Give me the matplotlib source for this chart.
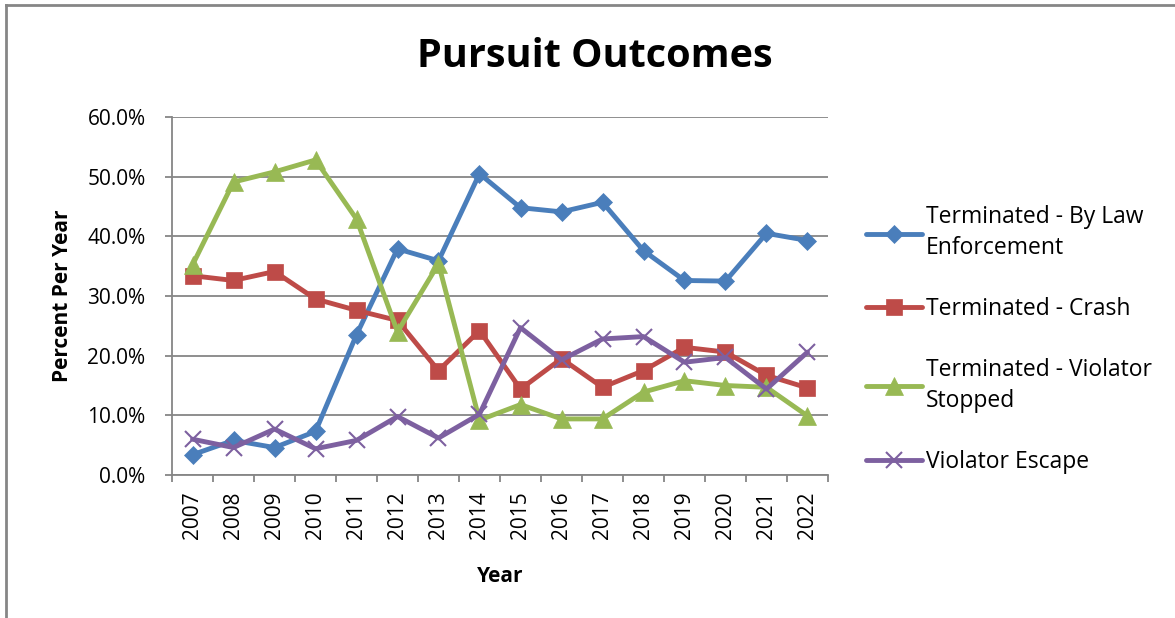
import matplotlib
matplotlib.use("Agg")
import matplotlib.pyplot as plt
from matplotlib.lines import Line2D
from matplotlib.ticker import PercentFormatter, FixedLocator

plt.rcParams['font.family'] = ['Open Sans', 'DejaVu Sans']

years = ['2007', '2008', '2009', '2010', '2011', '2012', '2013', '2014',
         '2015', '2016', '2017', '2018', '2019', '2020', '2021', '2022']

# percent per year
law_enf = [3.4, 5.8, 4.6, 7.3, 23.5, 37.9, 35.9, 50.5,
           44.8, 44.1, 45.7, 37.6, 32.6, 32.5, 40.5, 39.3]
crash = [33.4, 32.6, 34.1, 29.5, 27.6, 25.9, 17.5, 24.2,
         14.4, 19.5, 14.7, 17.5, 21.4, 20.6, 16.7, 14.6]
stopped = [35.2, 49.1, 50.8, 52.8, 42.9, 24.0, 35.4, 9.2,
           11.8, 9.4, 9.4, 13.9, 15.8, 15.0, 14.7, 9.9]
escape = [6.0, 4.6, 7.7, 4.4, 5.8, 9.8, 6.2, 10.2,
          24.7, 19.3, 22.8, 23.2, 18.9, 19.7, 14.4, 20.6]

labels = ['Terminated - By Law\nEnforcement', 'Terminated - Crash',
          'Terminated - Violator\nStopped', 'Violator Escape']
colors = ['#4a7ebb', '#be4b48', '#98b954', '#7d60a0']
markers = ['D', 's', '^', 'x']
msizes = [9, 12, 13, 12]

fig = plt.figure(figsize=(11.75, 6.18), dpi=100)
ax = fig.add_axes([172 / 1175, 1 - 475 / 618, 656 / 1175, 358 / 618])

x = list(range(len(years)))
series = [law_enf, crash, stopped, escape]
for vals, lab, c, m, ms in zip(series, labels, colors, markers, msizes):
    ax.plot(x, vals, color=c, lw=3.5, marker=m, markersize=ms,
            markeredgewidth=1.5 if m == 'x' else 0.5, markeredgecolor=c,
            label=lab, solid_joinstyle='round', solid_capstyle='round')

grey = '#868686'
ax.set_ylim(0, 60)
ax.set_xlim(-0.5, len(years) - 0.5)
ax.set_yticks(range(0, 61, 10))
ax.yaxis.set_major_formatter(PercentFormatter(decimals=1))
ax.set_xticks(x)
ax.set_xticklabels(years, rotation=90, fontsize=15)
ax.xaxis.set_minor_locator(FixedLocator([i - 0.5 for i in range(len(years) + 1)]))
ax.tick_params(axis='x', which='major', length=0, pad=12)
ax.tick_params(axis='x', which='minor', length=5, color=grey, width=1.3, direction='out')
ax.tick_params(axis='y', length=5, color=grey, width=1.3, labelsize=15, pad=14)
ax.grid(axis='y', color=grey, lw=1.3)
ax.set_axisbelow(True)
for s in ['top', 'right']:
    ax.spines[s].set_visible(False)
for s in ['left', 'bottom']:
    ax.spines[s].set_color(grey)
    ax.spines[s].set_linewidth(1.3)

ax.set_ylabel('Percent Per Year', fontsize=15, fontweight='bold', labelpad=10)
ax.set_xlabel('Year', fontsize=15, fontweight='bold', labelpad=19)
fig.text(595 / 1175, 1 - 67 / 618, 'Pursuit Outcomes', fontsize=28.5,
         fontweight='bold', ha='center', va='baseline')

leg = ax.legend(loc='upper left', bbox_to_anchor=(857 / 1175, 1 - 196 / 618),
                bbox_transform=fig.transFigure, frameon=False, fontsize=16.5,
                handlelength=2.45, handletextpad=0.15, labelspacing=1.6,
                borderaxespad=0)
for t in leg.get_texts():
    t.set_linespacing(1.4)

# chart frame (screenshot shows only top and left edges)
fig.add_artist(Line2D([6 / 1175, 6 / 1175], [0, 1 - 5 / 618], color=grey, lw=2,
                      transform=fig.transFigure))
fig.add_artist(Line2D([6 / 1175, 1], [1 - 5 / 618, 1 - 5 / 618], color=grey, lw=2,
                      transform=fig.transFigure))

fig.savefig('out.png', dpi=100, facecolor='white')
